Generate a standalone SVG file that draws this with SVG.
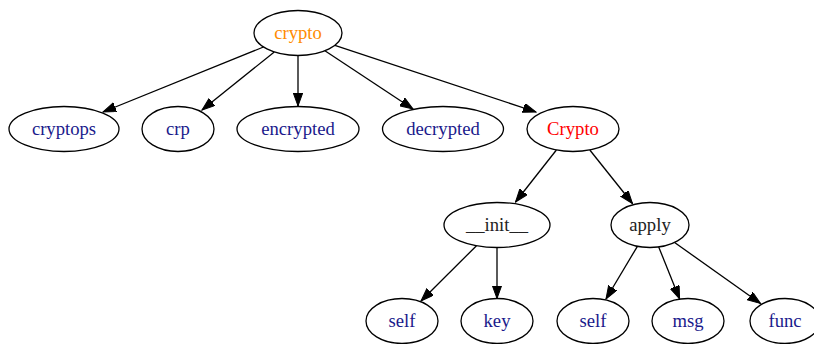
<svg xmlns="http://www.w3.org/2000/svg" width="814" height="344" viewBox="0 0 814 344">
<defs>
<style>
.n ellipse{fill:#fff;stroke:#000;stroke-width:1.3}
.n text{font-family:"Liberation Serif","Times New Roman",serif;font-size:18.67px;text-anchor:middle}
.b{fill:#1a1a8c}
.e line{stroke:#000;stroke-width:1.3;marker-end:url(#ah)}
</style>
<marker id="ah" markerUnits="userSpaceOnUse" markerWidth="14" markerHeight="10" refX="13" refY="4.7" orient="auto">
<path d="M0,0 L13,4.7 L0,9.4 z" fill="#000" stroke="#000" stroke-width="1"/>
</marker>
</defs>
<rect width="814" height="344" fill="#fff"/>
<g class="e" id="edges">
<line x1="263.5" y1="47" x2="103" y2="112"/>
<line x1="274.3" y1="52" x2="202" y2="110"/>
<line x1="298" y1="55.5" x2="298" y2="106"/>
<line x1="324.9" y1="50.8" x2="413" y2="109"/>
<line x1="334.9" y1="45.3" x2="536" y2="112"/>
<line x1="556.4" y1="150" x2="515.5" y2="202"/>
<line x1="589.8" y1="150" x2="632.5" y2="203.5"/>
<line x1="476.5" y1="245.7" x2="421" y2="301"/>
<line x1="497" y1="247.5" x2="497" y2="298.5"/>
<line x1="637.4" y1="246.3" x2="606" y2="299"/>
<line x1="658.7" y1="246.9" x2="679.6" y2="299"/>
<line x1="674.6" y1="242.5" x2="760.5" y2="303.5"/>
</g>
<g class="n" id="crypto"><ellipse cx="298" cy="33" rx="44" ry="22.5"/><text x="298" y="39" fill="#ff8c00">crypto</text></g>
<g class="n" id="cryptops"><ellipse cx="64" cy="129" rx="55" ry="22.5"/><text x="64" y="135" class="b">cryptops</text></g>
<g class="n" id="crp"><ellipse cx="178" cy="129" rx="36" ry="22.5"/><text x="178" y="135" class="b">crp</text></g>
<g class="n" id="encrypted"><ellipse cx="298" cy="129" rx="61" ry="22.5"/><text x="298" y="135" class="b">encrypted</text></g>
<g class="n" id="decrypted"><ellipse cx="443" cy="129" rx="60.5" ry="22.5"/><text x="443" y="135" class="b">decrypted</text></g>
<g class="n" id="Crypto"><ellipse cx="573" cy="129" rx="46" ry="22.5"/><text x="573" y="135" fill="#ff0000">Crypto</text></g>
<g class="n" id="init"><ellipse cx="497" cy="225" rx="53" ry="22.5"/><text x="497" y="231" fill="#222">__init__</text></g>
<g class="n" id="apply"><ellipse cx="650" cy="225" rx="39" ry="22.5"/><text x="650" y="231" fill="#222">apply</text></g>
<g class="n" id="self1"><ellipse cx="402" cy="321" rx="36" ry="22.5"/><text x="402" y="327" class="b">self</text></g>
<g class="n" id="key"><ellipse cx="497" cy="321" rx="36" ry="22.5"/><text x="497" y="327" class="b">key</text></g>
<g class="n" id="self2"><ellipse cx="593" cy="321" rx="36" ry="22.5"/><text x="593" y="327" class="b">self</text></g>
<g class="n" id="msg"><ellipse cx="688" cy="321" rx="36" ry="22.5"/><text x="688" y="327" class="b">msg</text></g>
<g class="n" id="func"><ellipse cx="785" cy="321" rx="35" ry="22.5"/><text x="785" y="327" class="b">func</text></g>
</svg>
